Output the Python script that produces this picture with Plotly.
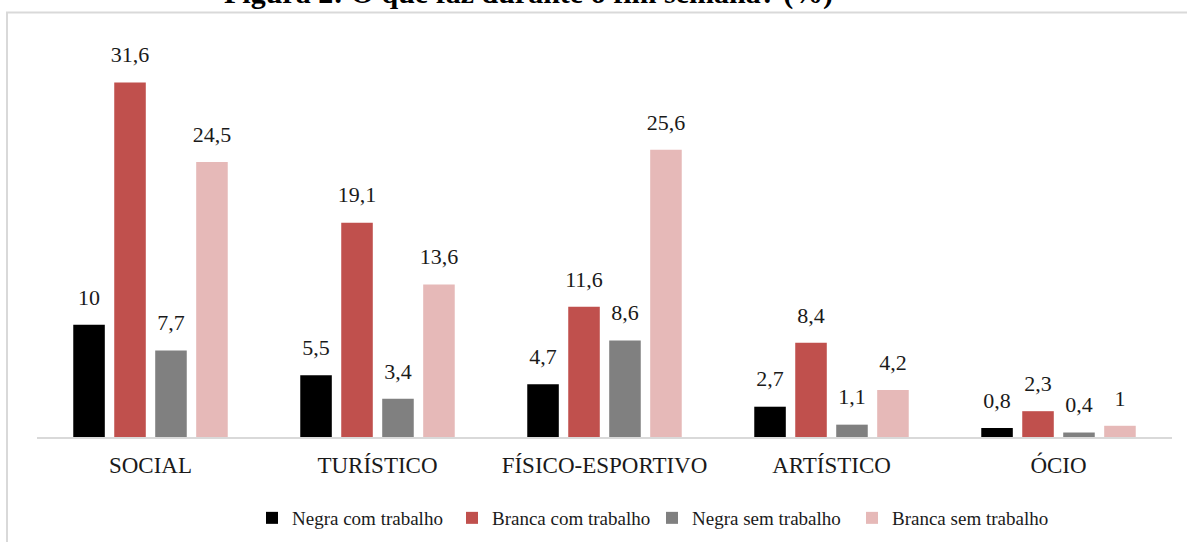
import plotly.graph_objects as go

categorias = ["SOCIAL", "TURÍSTICO", "FÍSICO-ESPORTIVO", "ARTÍSTICO", "ÓCIO"]
negra_com_trabalho = [10, 5.5, 4.7, 2.7, 0.8]
branca_com_trabalho = [31.6, 19.1, 11.6, 8.4, 2.3]
negra_sem_trabalho = [7.7, 3.4, 8.6, 1.1, 0.4]
branca_sem_trabalho = [24.5, 13.6, 25.6, 4.2, 1]

series = [
    ("Negra com trabalho", negra_com_trabalho, "#000000"),
    ("Branca com trabalho", branca_com_trabalho, "#c0504d"),
    ("Negra sem trabalho", negra_sem_trabalho, "#808080"),
    ("Branca sem trabalho", branca_sem_trabalho, "#e6b9b8"),
]

W, H = 1187, 542
L, R, T, B = 37, 15, 40, 105
pw, ph = W - L - R, H - T - B
YMAX = ph / 11.22
SERIF = "Liberation Serif, Times New Roman, serif"


def px_x(x):
    return (x - L) / pw


def px_y(y):
    return (H - B - y) / ph


def fmt(v):
    return ("%g" % v).replace(".", ",")


fig = go.Figure()
for i, (name, vals, color) in enumerate(series):
    fig.add_trace(go.Bar(x=categorias, y=vals, name=name,
                         marker=dict(color=color, line=dict(width=0)),
                         offsetgroup=str(i), hoverinfo="skip"))

# rótulos de dados acima das barras
for i, (name, vals, color) in enumerate(series):
    fig.add_trace(go.Scatter(x=categorias, y=vals, mode="markers+text",
                             text=[fmt(v) for v in vals],
                             textposition="top center",
                             textfont=dict(family=SERIF, size=22, color="#1a1a1a"),
                             marker=dict(size=22, opacity=0),
                             offsetgroup=str(i), showlegend=False,
                             hoverinfo="skip", cliponaxis=False))

fig.update_layout(
    width=W, height=H,
    margin=dict(l=L, r=R, t=T, b=B, pad=0),
    plot_bgcolor="white", paper_bgcolor="white",
    barmode="group", bargap=0.278, bargroupgap=0.23,
    scattermode="group", scattergap=0.278,
    font=dict(family=SERIF, color="#1a1a1a"),
    xaxis=dict(showline=True, linecolor="#d9d9d9", linewidth=1.5,
               showgrid=False, zeroline=False, ticks="", automargin=False,
               tickfont=dict(family=SERIF, size=23, color="#1a1a1a"),
               ticklabelstandoff=7),
    yaxis=dict(visible=False, range=[0, YMAX], showgrid=False,
               automargin=False),
    legend=dict(orientation="h", x=px_x(652), xanchor="center",
                yref="container", y=(H - 518) / H, yanchor="middle",
                font=dict(family=SERIF, size=19, color="#1a1a1a"),
                itemwidth=30, entrywidth=155, entrywidthmode="pixels",
                traceorder="normal"),
    showlegend=True,
)

# moldura cinza em volta do gráfico
fig.add_shape(type="rect", xref="paper", yref="paper",
              x0=px_x(7), x1=px_x(1300), y0=px_y(700), y1=px_y(12.5),
              line=dict(color="#d9d9d9", width=2), layer="below")

fig.add_annotation(text="<b>Figura 2: O que faz durante o fim semana? (%)</b>",
                   xref="paper", yref="paper", x=px_x(528), y=px_y(-7),
                   xanchor="center", yanchor="middle", showarrow=False,
                   font=dict(family=SERIF, size=30, color="#000000"))

fig.write_html("out.html", config={"displayModeBar": False},
               post_script="document.body.style.margin='0px';")
